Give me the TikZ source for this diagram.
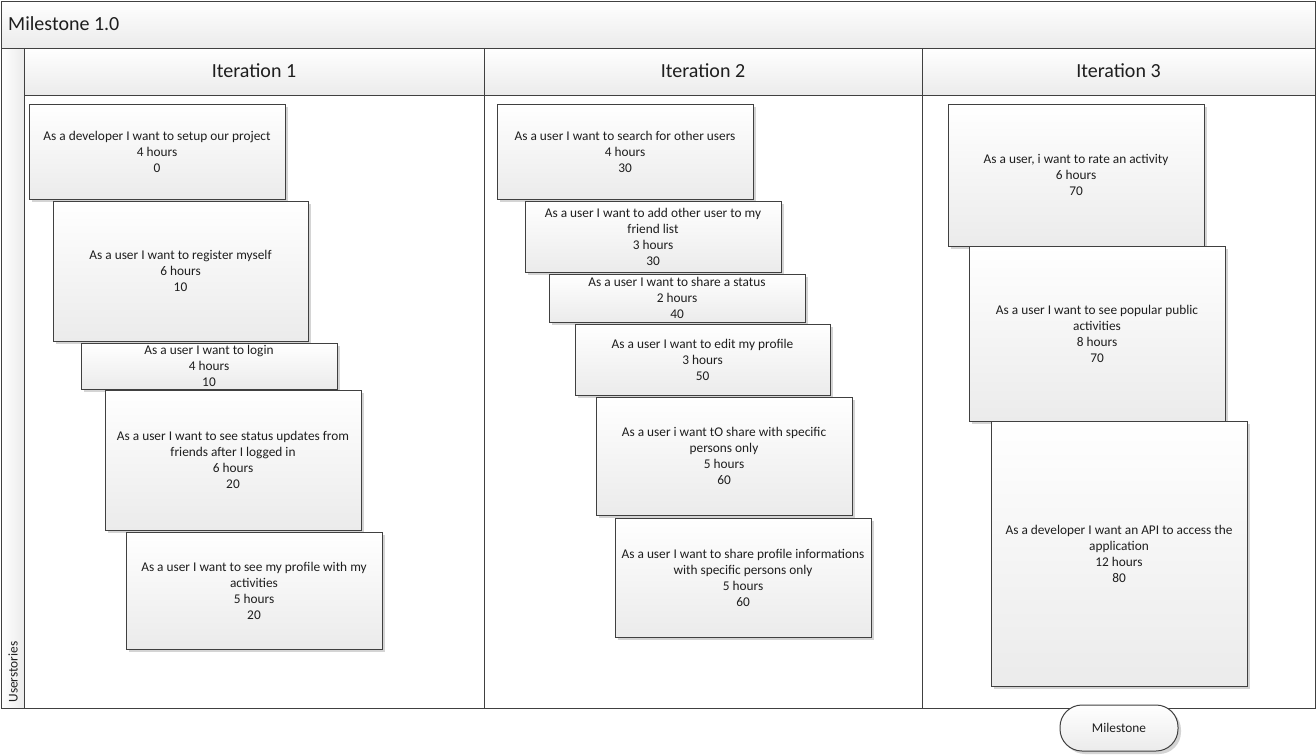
\documentclass[tikz,border=0pt]{standalone}
\usepackage{fontspec}
\setmainfont{Carlito}
\usetikzlibrary{shadows}
\definecolor{ln}{HTML}{404040}
\definecolor{txt}{HTML}{1E1E1E}
\definecolor{shd}{HTML}{D4D4D4}
\definecolor{grb}{HTML}{EBEBEB}
\tikzset{
  story/.style={draw=ln, line width=1pt, top color=white, bottom color=grb,
    inner sep=0pt, align=center, text=txt, font=\fontsize{13.33}{16}\selectfont,
    drop shadow={shadow xshift=3pt, shadow yshift=-3pt, fill=shd, opacity=1}},
  band/.style={draw=ln, line width=1pt, top color=white, bottom color=grb},
  frameline/.style={draw=ln, line width=1pt},
  headtext/.style={text=txt, font=\fontsize{20}{24}\selectfont, inner sep=0pt},
  smalltext/.style={text=txt, font=\fontsize{13.33}{16}\selectfont, inner sep=0pt},
}
\begin{document}
\begin{tikzpicture}[x=1pt,y=-1pt]
\useasboundingbox (0,0) rectangle (1316,755);
\fill[white] (0,0) rectangle (1316,755);
% title band
\path[band] (1,1) rectangle (1315,48);
\node[headtext, anchor=west] (title) at (8,24) {Milestone 1.0};
% lane strip
\path[draw=ln, line width=1pt, left color=white, right color=grb] (1,48) rectangle (24,708);
\node[smalltext, rotate=90] (lane) at (13,672) {Userstories};
% iteration headers
\path[band] (24,48) rectangle (484,95);
\path[band] (484,48) rectangle (922,95);
\path[band] (922,48) rectangle (1315,95);
\node[headtext] (it1) at (254,71) {Iteration 1};
\node[headtext] (it2) at (703,71) {Iteration 2};
\node[headtext] (it3) at (1118.5,71) {Iteration 3};
% frame
\draw[frameline] (1,1) rectangle (1315,708);
\draw[frameline] (484,95) -- (484,708);
\draw[frameline] (922,95) -- (922,708);
\draw[frameline] (24,95) -- (24,708);
% iteration 1
\node[story, minimum width=256pt, minimum height=95pt] (a1) at (157,151.5)
  {As a developer I want to setup our project\\4 hours\\0};
\node[story, minimum width=255pt, minimum height=140pt] (a2) at (180.5,271)
  {As a user I want to register myself\\6 hours\\10};
\node[story, minimum width=256pt, minimum height=46pt] (a3) at (209,366)
  {As a user I want to login\\4 hours\\10};
\node[story, minimum width=256pt, minimum height=140pt] (a4) at (233,460)
  {As a user I want to see status updates from\\friends after I logged in\\6 hours\\20};
\node[story, minimum width=256pt, minimum height=117pt] (a5) at (254,590.5)
  {As a user I want to see my profile with my\\activities\\5 hours\\20};
% iteration 2
\node[story, minimum width=256pt, minimum height=95pt] (b1) at (625,151.5)
  {As a user I want to search for other users\\4 hours\\30};
\node[story, minimum width=256pt, minimum height=71pt] (b2) at (653,236.5)
  {As a user I want to add other user to my\\friend list\\3 hours\\30};
\node[story, minimum width=256pt, minimum height=48pt] (b3) at (677,298)
  {As a user I want to share a status\\2 hours\\40};
\node[story, minimum width=255pt, minimum height=71pt] (b4) at (702.5,359.5)
  {As a user I want to edit my profile\\3 hours\\50};
\node[story, minimum width=256pt, minimum height=118pt] (b5) at (724,456)
  {As a user i want tO share with specific\\persons only\\5 hours\\60};
\node[story, minimum width=256pt, minimum height=119pt] (b6) at (743,577.5)
  {As a user I want to share profile informations\\with specific persons only\\5 hours\\60};
% iteration 3
\node[story, minimum width=256pt, minimum height=142pt] (c1) at (1076,175)
  {As a user, i want to rate an activity\\6 hours\\70};
\node[story, minimum width=256pt, minimum height=175pt] (c2) at (1097,333.5)
  {As a user I want to see popular public\\activities\\8 hours\\70};
\node[story, minimum width=256pt, minimum height=265pt] (c3) at (1119,553.5)
  {As a developer I want an API to access the\\application\\12 hours\\80};
% milestone
\node[story, rounded corners=22pt, minimum width=118pt, minimum height=46pt] (ms) at (1119,728) {Milestone};
\end{tikzpicture}
\end{document}
